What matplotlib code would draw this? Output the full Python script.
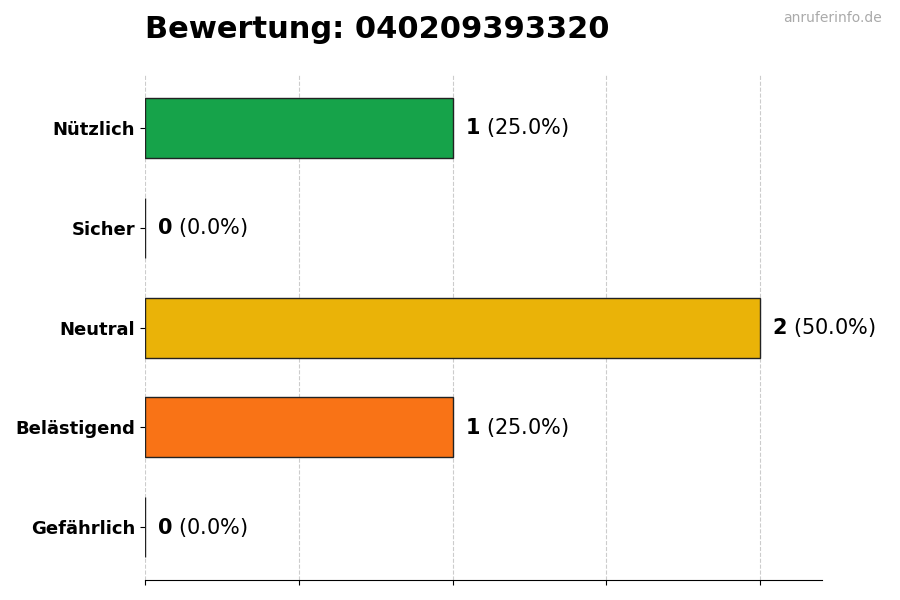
import matplotlib
matplotlib.use("Agg")
import matplotlib.pyplot as plt

categories = ["Nützlich", "Sicher", "Neutral", "Belästigend", "Gefährlich"]
counts = [1, 0, 2, 1, 0]
percents = [25.0, 0.0, 50.0, 25.0, 0.0]
colors = ["#16a34a", "#22c55e", "#eab308", "#f97316", "#dc2626"]

fig = plt.figure(figsize=(9, 6), dpi=100)
ax = fig.add_axes([0.161, 0.033, 0.752, 0.842])
y = list(range(len(categories)))[::-1]
ax.barh(y, counts, height=0.6, color=colors, edgecolor="#222222", linewidth=1, zorder=3)
for yi, c, p in zip(y, counts, percents):
    ax.text(c + 0.04, yi, f"$\\bf{{{c}}}$ ({p}%)", va="center", ha="left", fontsize=15)
ax.set_yticks(y)
ax.set_yticklabels(categories, fontsize=13, fontweight="bold")
ax.set_xticks([0, 0.5, 1, 1.5, 2])
ax.set_xticklabels([])
ax.set_xlim(0, 2.2)
ax.set_ylim(-0.53, 4.53)
ax.grid(axis="x", linestyle="--", color="#cccccc", linewidth=0.8, zorder=0)
for s in ["top", "right", "left"]:
    ax.spines[s].set_visible(False)
fig.text(0.161, 0.95, "Bewertung: 040209393320", fontsize=22, fontweight="bold", ha="left", va="center")
fig.text(0.98, 0.97, "anruferinfo.de", fontsize=10, color="#aaaaaa", ha="right", va="center")
fig.savefig("out.png", dpi=100)
